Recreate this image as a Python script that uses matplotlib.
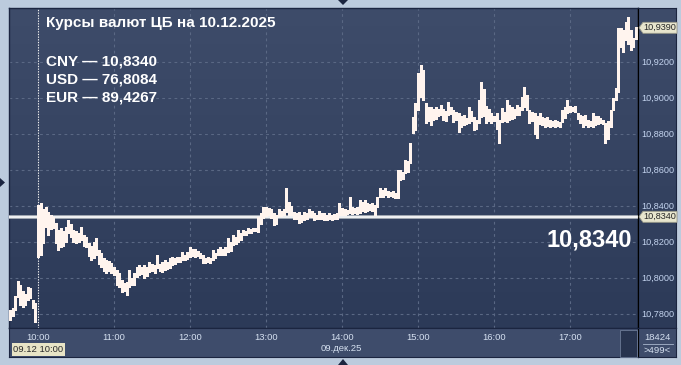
import matplotlib
matplotlib.use("Agg")
import matplotlib.pyplot as plt
import numpy as np
from matplotlib.patches import Polygon, Rectangle
from matplotlib.lines import Line2D
from matplotlib.colors import LinearSegmentedColormap

# ---------------- data ----------------
title = "Курсы валют ЦБ на 10.12.2025"
rates_lines = ["CNY — 10,8340", "USD — 76,8084", "EUR — 89,4267"]
cb_rate = 10.8340
last_price = 10.9390
big_label = "10,8340"
date_label = "09.дек.25"
cursor_label = "09.12 10:00"
hour_labels = ["10:00", "11:00", "12:00", "13:00", "14:00", "15:00", "16:00", "17:00"]
hour_minutes = [0, 60, 120, 180, 240, 300, 360, 420]           # minutes after 10:00
y_ticks = [10.78, 10.80, 10.82, 10.84, 10.86, 10.88, 10.90, 10.92]
volume_label = "18424"
count_label = ">499<"

# pre-session bars (minutes before 10:00)
pre_times = [-22, -20, -18, -16, -14, -12, -10, -8, -6, -4, -2]
pre_high = [10.7822, 10.7833, 10.7900, 10.7983, 10.7960, 10.7930, 10.7910, 10.7950, 10.7945, 10.7880, 10.7861]
pre_low = [10.7767, 10.7790, 10.7822, 10.7894, 10.7850, 10.7839, 10.7850, 10.7880, 10.7890, 10.7833, 10.7756]

# main session bars, every 2 minutes from 10:00
sess_high = [
    # 10:00
    10.8406, 10.8417, 10.8383, 10.8394, 10.8367, 10.8350, 10.8340, 10.8306, 10.8267, 10.8280,
    10.8260, 10.8285, 10.8320, 10.8300, 10.8267, 10.8260, 10.8250, 10.8285, 10.8240, 10.8230,
    10.8194, 10.8180, 10.8200, 10.8222, 10.8156, 10.8140, 10.8110, 10.8100, 10.8094, 10.8083,
    # 11:00
    10.8060, 10.8044, 10.8028, 10.7989, 10.7970, 10.7978, 10.8044, 10.8000, 10.8028, 10.8061,
    10.8072, 10.8060, 10.8072, 10.8060, 10.8089, 10.8080, 10.8072, 10.8128, 10.8080, 10.8089,
    10.8100, 10.8090, 10.8111, 10.8117, 10.8110, 10.8117, 10.8115, 10.8144, 10.8130,
    # 11:58 - 12:58
    10.8144, 10.8172, 10.8160, 10.8161, 10.8150, 10.8140, 10.8128, 10.8110, 10.8117, 10.8110,
    10.8156, 10.8140, 10.8161, 10.8172, 10.8160, 10.8172, 10.8222, 10.8200, 10.8239, 10.8230,
    10.8267, 10.8250, 10.8267, 10.8260, 10.8278, 10.8270, 10.8278, 10.8275, 10.8339, 10.8360,
    # 12:58 - 13:58
    10.8394, 10.8394, 10.8390, 10.8383, 10.8361, 10.8350, 10.8383, 10.8370, 10.8383, 10.8500,
    10.8422, 10.8400, 10.8367, 10.8360, 10.8367, 10.8350, 10.8367, 10.8360, 10.8383, 10.8370,
    10.8361, 10.8350, 10.8372, 10.8360, 10.8361, 10.8350, 10.8361, 10.8350, 10.8355, 10.8361,
    # 13:58 - 14:58
    10.8417, 10.8390, 10.8383, 10.8380, 10.8450, 10.8394, 10.8390, 10.8394, 10.8433, 10.8420,
    10.8433, 10.8417, 10.8410, 10.8417, 10.8406, 10.8450, 10.8500, 10.8490, 10.8500, 10.8483,
    10.8480, 10.8483, 10.8470, 10.8600, 10.8600, 10.8590, 10.8656, 10.8650, 10.8750, 10.8894,
    10.8972,
    # 15:00
    10.9139, 10.9183, 10.9156, 10.8972, 10.8950, 10.8950, 10.8940, 10.8950, 10.8940, 10.8961,
    10.8939, 10.8930, 10.8978, 10.8950, 10.8933, 10.8920, 10.8917, 10.8900, 10.8906, 10.8890,
    10.8950, 10.8930, 10.8894, 10.8880, 10.8989, 10.9089, 10.9050, 10.8956, 10.8940, 10.8917,
    # 16:00
    10.8900, 10.8917, 10.8880, 10.8944, 10.8920, 10.8989, 10.8960, 10.8950, 10.8940, 10.8961,
    10.8950, 10.9006, 10.9061, 10.9017, 10.8933, 10.8920, 10.8917, 10.8900, 10.8917, 10.8894,
    10.8890, 10.8894, 10.8878, 10.8870, 10.8878, 10.8872, 10.8865, 10.8933, 10.8950,
    # 16:58 - 17:52
    10.8989, 10.8956, 10.8950, 10.8956, 10.8917, 10.8906, 10.8900, 10.8906, 10.8878, 10.8870,
    10.8917, 10.8900, 10.8900, 10.8890, 10.8880, 10.8861, 10.8870, 10.8933, 10.9000, 10.9056,
    10.9389, 10.9389, 10.9378, 10.9420, 10.9450, 10.9378, 10.9333, 10.9394,
]
sess_low = [
    # 10:00
    10.8117, 10.8128, 10.8194, 10.8283, 10.8240, 10.8270, 10.8280, 10.8194, 10.8156, 10.8170,
    10.8180, 10.8200, 10.8250, 10.8230, 10.8200, 10.8194, 10.8200, 10.8211, 10.8180, 10.8172,
    10.8120, 10.8100, 10.8111, 10.8130, 10.8080, 10.8061, 10.8040, 10.8028, 10.8040, 10.8030,
    # 11:00
    10.8017, 10.7960, 10.7950, 10.7922, 10.7930, 10.7906, 10.7950, 10.7960, 10.7961, 10.8006,
    10.8017, 10.8020, 10.8000, 10.8010, 10.8033, 10.8040, 10.8028, 10.8056, 10.8040, 10.8033,
    10.8044, 10.8050, 10.8056, 10.8072, 10.8080, 10.8089, 10.8090, 10.8100, 10.8100,
    # 11:58 - 12:58
    10.8106, 10.8117, 10.8120, 10.8117, 10.8120, 10.8110, 10.8083, 10.8083, 10.8090, 10.8083,
    10.8100, 10.8110, 10.8128, 10.8128, 10.8130, 10.8128, 10.8144, 10.8150, 10.8183, 10.8190,
    10.8200, 10.8210, 10.8239, 10.8240, 10.8250, 10.8250, 10.8261, 10.8261, 10.8256, 10.8300,
    # 12:58 - 13:58
    10.8333, 10.8344, 10.8350, 10.8333, 10.8294, 10.8300, 10.8344, 10.8344, 10.8350, 10.8367,
    10.8350, 10.8350, 10.8328, 10.8330, 10.8306, 10.8310, 10.8322, 10.8330, 10.8344, 10.8340,
    10.8322, 10.8325, 10.8328, 10.8330, 10.8322, 10.8322, 10.8330, 10.8322, 10.8325, 10.8330,
    # 13:58 - 14:58
    10.8350, 10.8350, 10.8350, 10.8355, 10.8360, 10.8356, 10.8360, 10.8356, 10.8361, 10.8370,
    10.8365, 10.8372, 10.8380, 10.8372, 10.8350, 10.8394, 10.8450, 10.8450, 10.8460, 10.8450,
    10.8455, 10.8450, 10.8444, 10.8444, 10.8544, 10.8550, 10.8583, 10.8590, 10.8639, 10.8806,
    10.8822,
    # 15:00
    10.8933, 10.9006, 10.8989, 10.8861, 10.8870, 10.8850, 10.8880, 10.8883, 10.8900, 10.8906,
    10.8880, 10.8872, 10.8906, 10.8910, 10.8867, 10.8880, 10.8811, 10.8840, 10.8850, 10.8855,
    10.8861, 10.8870, 10.8822, 10.8830, 10.8861, 10.8894, 10.8900, 10.8861, 10.8870, 10.8861,
    # 16:00
    10.8870, 10.8830, 10.8750, 10.8867, 10.8870, 10.8867, 10.8880, 10.8883, 10.8890, 10.8906,
    10.8906, 10.8933, 10.8950, 10.8933, 10.8861, 10.8870, 10.8800, 10.8778, 10.8856, 10.8850,
    10.8839, 10.8845, 10.8839, 10.8845, 10.8839, 10.8845, 10.8839, 10.8867, 10.8890,
    # 16:58 - 17:52
    10.8917, 10.8922, 10.8925, 10.8922, 10.8883, 10.8860, 10.8839, 10.8850, 10.8839, 10.8845,
    10.8839, 10.8850, 10.8856, 10.8860, 10.8856, 10.8750, 10.8770, 10.8839, 10.8933, 10.8989,
    10.9033, 10.9283, 10.9256, 10.9322, 10.9300, 10.9267, 10.9283, 10.9330,
]
sess_times = list(range(0, 2 * len(sess_high), 2))

# ---------------- layout helpers ----------------
W, H = 681, 365
def fx(px):
    return px / W
def fy(py):
    return 1 - py / H

plt.rcParams['font.family'] = ['Liberation Sans', 'DejaVu Sans']

fig = plt.figure(figsize=(6.81, 3.65), dpi=100, facecolor='#bccbdd')

X0, X1, Y0, Y1 = 9, 638, 8, 328
ax = fig.add_axes([fx(X0), fy(Y1), (X1 - X0) / W, (Y1 - Y0) / H])
tmin, tmax = -22.9, 473.7
ymin, ymax = 10.77222, 10.95
ax.set_xlim(tmin, tmax)
ax.set_ylim(ymin, ymax)

# gradient background
cmap = LinearSegmentedColormap.from_list('bg', ['#2c3a58', '#3e4c6a'])
grad = np.linspace(0, 1, 256).reshape(-1, 1)
ax.imshow(grad, extent=[0, 1, 0, 1], transform=ax.transAxes, aspect='auto',
          cmap=cmap, origin='lower', zorder=0)

ax.set_xticks([])
ax.set_yticks([])
for s in ax.spines.values():
    s.set_color('#1b2540')
    s.set_linewidth(1.0)
ax.spines['right'].set_color('#000000')

grid_col = '#5a6884'
for v in y_ticks:
    ax.axhline(v, color=grid_col, lw=0.8, ls=(0, (2.5, 3)), zorder=1)
for m in hour_minutes[1:]:
    ax.axvline(m, color=grid_col, lw=0.8, ls=(0, (2.5, 3)), zorder=1)

# session-start dotted line
ax.axvline(0, color='#f0f0f0', lw=0.8, ls=(0, (1.2, 1.2)), zorder=2)

# CB rate line
ax.axhline(cb_rate, color='#a4aab4', lw=2.8, zorder=3)
ax.axhline(cb_rate, color='#ffffff', lw=1.2, zorder=3)

bar_col = '#fff4ee'
ax.vlines(pre_times, pre_low, pre_high, color=bar_col, lw=1.0, zorder=4, antialiased=False)
ax.vlines(sess_times, sess_low, sess_high, color=bar_col, lw=1.0, zorder=4, antialiased=False)

# texts on chart
fig.text(fx(46), fy(27.3), title, fontsize=11, fontweight='bold', color='white',
         ha='left', va='baseline')
for i, line in enumerate(rates_lines):
    fig.text(fx(46), fy(65 + 18.3 * i), line, fontsize=11, fontweight='bold',
             color='white', ha='left', va='baseline')
fig.text(fx(632), fy(246), big_label, fontsize=17, fontweight='bold', color='white',
         ha='right', va='baseline')

# right axis panel
axr = fig.add_axes([fx(X1), fy(Y1), (676 - X1) / W, (Y1 - Y0) / H])
axr.imshow(grad, extent=[0, 1, 0, 1], transform=axr.transAxes, aspect='auto',
           cmap=cmap, origin='lower', zorder=0)
axr.set_xlim(0, 1)
axr.set_ylim(ymin, ymax)
axr.set_xticks([])
axr.set_yticks([])
for s in axr.spines.values():
    s.set_color('#1b2540')
axr.spines['left'].set_color('#000000')
lab_col = '#c3d3ee'
for v in y_ticks:
    axr.text(0.1, v, f"{v:.4f}".replace('.', ','), fontsize=6.6, color=lab_col,
             ha='left', va='center')

def price_tag(val, text):
    yc = 206 - (val - 10.84) * 1800
    pts = [(639, yc), (643, yc - 5.5), (677, yc - 5.5), (677, yc + 5.5), (643, yc + 5.5)]
    poly = Polygon([(fx(a), fy(b)) for a, b in pts], closed=True, transform=fig.transFigure,
                   facecolor='#e7e5cd', edgecolor='#9a9a8a', lw=0.6, zorder=10)
    fig.patches.append(poly)
    fig.text(fx(660), fy(yc), text, fontsize=6.6, color='#262626', ha='center',
             va='center', zorder=11)

price_tag(last_price, f"{last_price:.4f}".replace('.', ','))
price_tag(cb_rate, f"{cb_rate:.4f}".replace('.', ','))

# bottom time axis
axb = fig.add_axes([fx(X0), fy(357), (X1 - X0) / W, (357 - Y1) / H])
axb.set_facecolor('#3e4c6b')
axb.set_xlim(tmin, tmax)
axb.set_ylim(0, 1)
axb.set_xticks([])
axb.set_yticks([])
for s in axb.spines.values():
    s.set_color('#1b2540')
for m, lab in zip(hour_minutes, hour_labels):
    axb.text(m, 1 - (338 - Y1) / 29, lab, fontsize=6.8, color='#d5e0f0', ha='center',
             va='center')
axb.text(0.528, 1 - (348.5 - Y1) / 29, date_label, fontsize=6.8, color='#d5e0f0',
         ha='center', va='center', transform=axb.transAxes)
# dark scroll block
fig.patches.append(Rectangle((fx(620), fy(356.5)), (637 - 620) / W, 27 / H,
                             transform=fig.transFigure, facecolor='#28344f',
                             edgecolor='#6c7a96', lw=0.6, zorder=5))
# cursor date box
fig.patches.append(Rectangle((fx(12), fy(355.5)), 53 / W, 12.5 / H,
                             transform=fig.transFigure, facecolor='#e8e4c6',
                             edgecolor='none', zorder=5))
fig.text(fx(38.5), fy(349.3), cursor_label, fontsize=6.8, color='#2a2a2a', ha='center',
         va='center', zorder=6)

# bottom-right box
axbr = fig.add_axes([fx(X1), fy(357), (676 - X1) / W, (357 - Y1) / H])
axbr.set_facecolor('#3e4c6b')
axbr.set_xticks([])
axbr.set_yticks([])
for s in axbr.spines.values():
    s.set_color('#1b2540')
axbr.spines['left'].set_color('#000000')
fig.text(fx(657), fy(337), volume_label, fontsize=6.8, color='#d5e0f0', ha='center', va='center')
fig.lines.append(Line2D([fx(643), fx(673)], [fy(344), fy(344)], transform=fig.transFigure,
                        color='#a8b6cc', lw=0.6))
fig.text(fx(657), fy(350.5), count_label, fontsize=6.8, color='#d5e0f0', ha='center', va='center')

# frame markers
for pts in ([(338, 0), (348, 0), (343, 5)],
            [(338, 365), (348, 365), (343, 359)],
            [(0, 178), (0, 187), (5, 182.5)]):
    fig.patches.append(Polygon([(fx(a), fy(b)) for a, b in pts], closed=True,
                               transform=fig.transFigure, facecolor='#1b2540',
                               edgecolor='none'))

fig.savefig('out.png', dpi=100, facecolor=fig.get_facecolor())
